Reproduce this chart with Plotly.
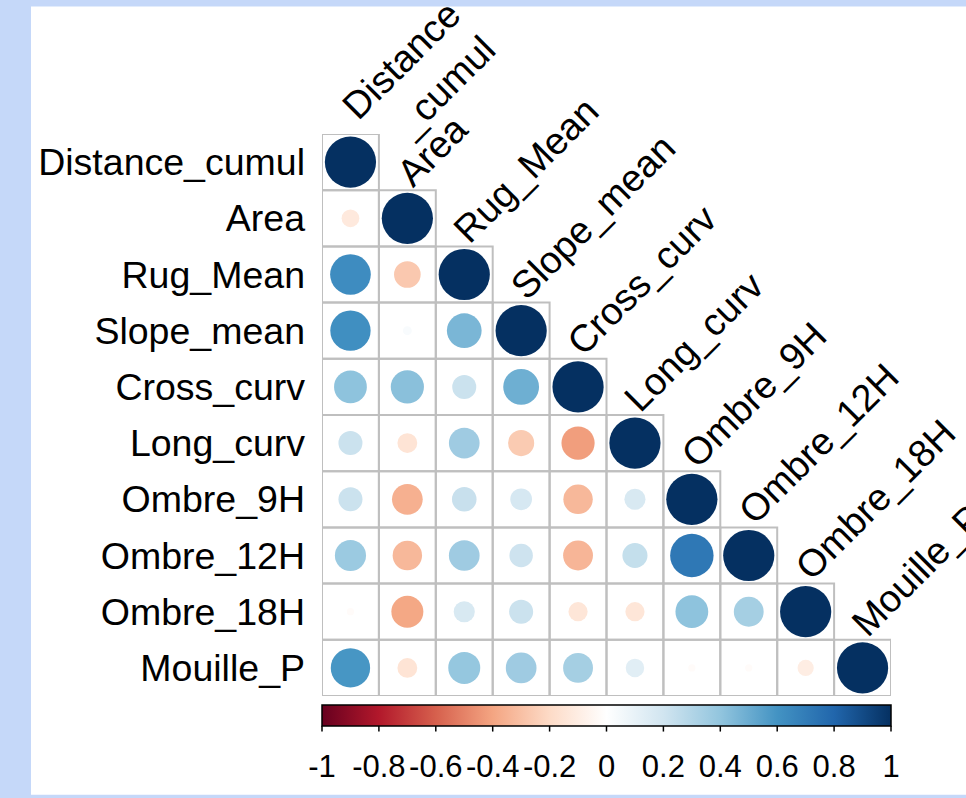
import numpy as np
import plotly.graph_objects as go

# ---------------- data ----------------
variables = ["Distance_cumul", "Area", "Rug_Mean", "Slope_mean", "Cross_curv",
             "Long_curv", "Ombre_9H", "Ombre_12H", "Ombre_18H", "Mouille_P"]
top_labels = ["Distance<br>_cumul", "Area", "Rug_Mean", "Slope_mean", "Cross_curv",
              "Long_curv", "Ombre_9H", "Ombre_12H", "Ombre_18H", "Mouille_P"]

# lower-triangle correlations (row variable vs. preceding column variables)
r_Area = [-0.12]
r_Rug_Mean = [0.63, -0.27]
r_Slope_mean = [0.62, 0.03, 0.46]
r_Cross_curv = [0.41, 0.42, 0.22, 0.49]
r_Long_curv = [0.22, -0.15, 0.36, -0.26, -0.42]
r_Ombre_9H = [0.22, -0.36, 0.23, 0.18, -0.33, 0.17]
r_Ombre_12H = [0.37, -0.33, 0.36, 0.21, -0.34, 0.24, 0.72]
r_Ombre_18H = [-0.02, -0.39, 0.17, 0.22, -0.14, -0.14, 0.41, 0.34]
r_Mouille_P = [0.59, -0.15, 0.39, 0.36, 0.34, 0.13, -0.02, -0.02, -0.10]

cbar_ticks = [-1, -0.8, -0.6, -0.4, -0.2, 0, 0.2, 0.4, 0.6, 0.8, 1]
cbar_ticktext = ["-1", "-0.8", "-0.6", "-0.4", "-0.2", "0", "0.2", "0.4", "0.6", "0.8", "1"]

# corrplot COL2('RdBu') palette
rdbu = ["#67001F", "#B2182B", "#D6604D", "#F4A582", "#FDDBC7", "#FFFFFF",
        "#D1E5F0", "#92C5DE", "#4393C3", "#2166AC", "#053061"]

rows = [[], r_Area, r_Rug_Mean, r_Slope_mean, r_Cross_curv, r_Long_curv,
        r_Ombre_9H, r_Ombre_12H, r_Ombre_18H, r_Mouille_P]

# ---------------- build cells ----------------
xs, ys, vals = [], [], []
for i, row in enumerate(rows):
    full = list(row) + [1.0]
    for j, v in enumerate(full):
        xs.append(j + 1)
        ys.append(i + 1)
        vals.append(v)
vals = np.array(vals)

n = len(variables)
W, H = 966, 798
ML, MR, MT, MB = 322, 75, 134, 95
plot_px = W - ML - MR
cell_px = plot_px / n
sizes = 0.9 * cell_px * np.sqrt(np.abs(vals))

font = "Liberation Sans, Arial, sans-serif"
colorscale = [[k / (len(rdbu) - 1), c] for k, c in enumerate(rdbu)]

bar_top_px, bar_th = 712, 21
tick_len_vis = 6
cb_y = -(bar_top_px - (H - MB)) / plot_px

fig = go.Figure()
fig.add_trace(go.Scatter(
    x=xs, y=ys, mode="markers",
    marker=dict(
        size=sizes, sizemode="diameter", color=vals, colorscale=colorscale,
        cmin=-1, cmax=1, opacity=1, line=dict(width=0),
        colorbar=dict(
            orientation="h", x=0.5, xanchor="center", len=1, lenmode="fraction",
            y=cb_y, yanchor="top", ypad=0, xpad=0,
            thickness=bar_th, outlinecolor="black", outlinewidth=1.5,
            ticks="outside", ticklen=14, tickcolor="rgba(0,0,0,0)", tickwidth=1.5,
            tickvals=cbar_ticks, ticktext=cbar_ticktext, tickangle=0,
            tickfont=dict(family=font, size=31, color="black"),
        ),
    ),
    hovertemplate="%{marker.color:.2f}<extra></extra>",
    showlegend=False,
))

shapes = []
# white panel over light-blue background
shapes.append(dict(type="rect", xref="paper", yref="paper", layer="below",
                   x0=(31 - ML) / plot_px, x1=(W - ML) / plot_px,
                   y0=-(MB + 5) / plot_px, y1=(H - MB - 5) / plot_px,
                   fillcolor="white", line=dict(width=0)))
# grid cells of the lower triangle
for x, y in zip(xs, ys):
    shapes.append(dict(type="rect", xref="x", yref="y", layer="below",
                       x0=x - 0.5, x1=x + 0.5, y0=y - 0.5, y1=y + 0.5,
                       line=dict(color="#bfbfbf", width=2), fillcolor="rgba(0,0,0,0)"))
# visible colorbar tick marks
bar_bottom = cb_y - bar_th / plot_px
for v in cbar_ticks:
    xp = (v - (-1)) / 2.0
    shapes.append(dict(type="line", xref="paper", yref="paper",
                       x0=xp, x1=xp, y0=bar_bottom, y1=bar_bottom - tick_len_vis / plot_px,
                       line=dict(color="black", width=1.5)))

annotations = []
for j, lab in enumerate(top_labels):
    if "<br>" in lab:
        xsh, ysh, al = -19, -31, "right"
    else:
        xsh, ysh, al = -21.5, -7, "left"
    annotations.append(dict(
        x=j + 1, y=j + 0.5, xref="x", yref="y", text=lab, showarrow=False,
        textangle=-45, xanchor="left", yanchor="bottom", align=al,
        xshift=xsh, yshift=ysh, font=dict(family=font, size=38, color="black")))

fig.update_layout(
    width=W, height=H, margin=dict(l=ML, r=MR, t=MT, b=MB, pad=0),
    paper_bgcolor="#c5d8f9", plot_bgcolor="white",
    shapes=shapes, annotations=annotations,
    xaxis=dict(range=[0.5, n + 0.5], showgrid=False, zeroline=False,
               showticklabels=False, ticks="", showline=False),
    yaxis=dict(range=[n + 0.5, 0.5], showgrid=False, zeroline=False,
               tickvals=list(range(1, n + 1)), ticktext=variables, ticks="",
               ticklabelstandoff=16, showline=False,
               tickfont=dict(family=font, size=37.5, color="black")),
)

fig.write_html("out.html", config={"displayModeBar": False},
               post_script="document.body.style.margin='0px';document.body.style.overflow='hidden';")
